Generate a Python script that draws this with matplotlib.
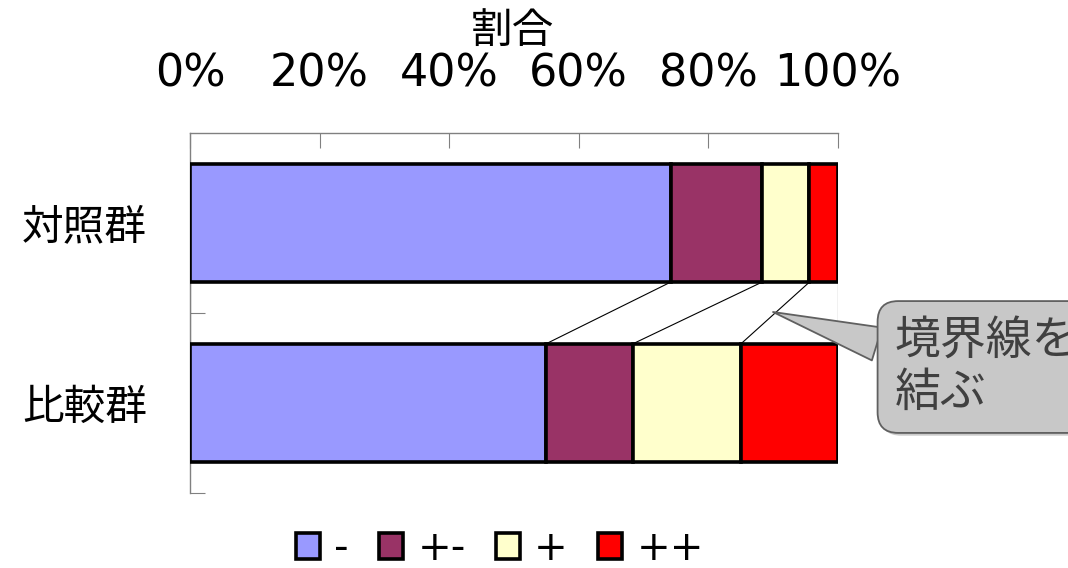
import numpy as np
import matplotlib
matplotlib.use("Agg")
import matplotlib.pyplot as plt
from matplotlib import patheffects

plt.rcParams['font.family'] = ['DejaVu Sans', 'Noto Sans CJK JP']

# データ
groups = ['対照群', '比較群']
labels = ['-', '+-', '+', '++']
colors = ['#9999FF', '#993366', '#FFFFCC', '#FF0000']
values = {
    '-':  [74.2, 54.9],
    '+-': [14.1, 13.4],
    '+':  [7.3, 16.7],
    '++': [4.4, 15.0],
}
xticks = [0, 20, 40, 60, 80, 100]

fig = plt.figure(figsize=(10.68, 5.68), dpi=100)
ax = fig.add_axes([190/1068, 75/568, 648/1068, 360/568])

ypos = np.arange(len(groups))
bar_h = 0.656
left = np.zeros(len(groups))
bounds = [left.copy()]
for lab, col in zip(labels, colors):
    v = np.array(values[lab])
    ax.barh(ypos, v, left=left, height=bar_h, color=col,
            edgecolor='black', linewidth=2.6, label=lab, zorder=3)
    left = left + v
    bounds.append(left.copy())

# 境界線を結ぶ線
for b in bounds:
    ax.plot([b[0], b[1]], [ypos[0] + bar_h/2, ypos[1] - bar_h/2],
            color='black', linewidth=0.8, zorder=2)

ax.set_xlim(0, 100)
ax.set_ylim(1.5, -0.5)
ax.xaxis.tick_top()
ax.set_xticks(xticks)
ax.set_xticklabels([f'{t}%' for t in xticks])
ax.tick_params(axis='x', direction='in', length=11, color='#808080',
               labelsize=32, pad=27)

ax.set_yticks([0.5, 1.5])
ax.set_yticklabels([])
ax.set_yticks(ypos, minor=True)
ax.set_yticklabels(groups, minor=True)
ax.tick_params(axis='y', which='major', direction='in', length=11, color='#808080')
ax.tick_params(axis='y', which='minor', length=0, labelsize=30, pad=31)

for s in ['right', 'bottom']:
    ax.spines[s].set_visible(False)
for s in ['top', 'left']:
    ax.spines[s].set_color('#808080')
    ax.spines[s].set_linewidth(1.0)

fig.text(512/1068, 1 - 31/568, '割合', fontsize=30, ha='center', va='center')

# 吹き出し
ann = ax.annotate('境界線を\n結ぶ', xy=(773, 568 - 312), xycoords='figure pixels',
                  xytext=(895, 568 - 367), textcoords='figure pixels',
                  fontsize=33, color='#404040', ha='left', va='center',
                  linespacing=1.2, annotation_clip=False,
                  bbox=dict(boxstyle='round,pad=0.38,rounding_size=0.45',
                            fc='#c8c8c8', ec='#606060', lw=1.3),
                  arrowprops=dict(arrowstyle='wedge,tail_width=0.75',
                                  fc='#c8c8c8', ec='#606060', lw=1.3,
                                  relpos=(0.0, 0.68), shrinkA=0, shrinkB=0),
                  zorder=5)
ann.get_bbox_patch().set_path_effects(
    [patheffects.SimplePatchShadow(offset=(2, -2), shadow_rgbFace='#999999', alpha=0.5),
     patheffects.Normal()])

handles, hl = ax.get_legend_handles_labels()
leg = fig.legend(handles, hl, loc='center', bbox_to_anchor=(500/1068, 1 - 549/568),
                 ncol=4, frameon=False, fontsize=29, handlelength=0.6,
                 handleheight=0.6, handletextpad=0.35, columnspacing=0.75,
                 borderpad=0.1)

fig.savefig('out.png', dpi=100)
